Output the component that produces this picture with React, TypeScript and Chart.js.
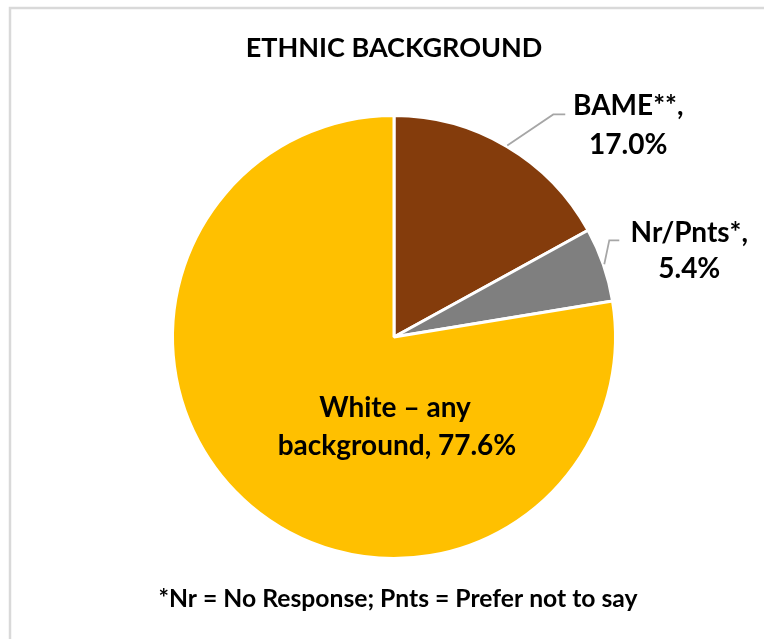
import React, { useEffect, useRef } from "react";
import { Chart, registerables } from "chart.js";

Chart.register(...registerables);

// ---- data ----
const categories = ["BAME**", "Nr/Pnts*", "White – any background"];
const values = [17.0, 5.4, 77.6];
const sliceColors = ["#843C0C", "#7F7F7F", "#FFC000"];
const titleText = "ETHNIC BACKGROUND";
const footnoteText = "*Nr = No Response; Pnts = Prefer not to say";

// ---- style ----
const FONT = "Lato, 'Open Sans', sans-serif";
const TEXT_COLOR = "#000000";
const LEADER_COLOR = "#A6A6A6";

// label layout per slice (style only)
const labelStyle = [
  { outside: true, ldx: 46, ldy: -31, hl: 12, tx: 75, b1: 1, b2: 40 },
  { outside: true, ldx: 5, ldy: -24, hl: 10, tx: 80, b1: 2, b2: 38 },
  { outside: false, cx: 1, b1: 80, b2: 118 },
];

function labelLines(i: number): string[] {
  const pct = values[i].toFixed(1) + "%";
  const cat = categories[i];
  if (i === 2) {
    const cut = cat.lastIndexOf(" ");
    return [cat.slice(0, cut), cat.slice(cut + 1) + ", " + pct];
  }
  return [cat + ",", pct];
}

const decorPlugin = {
  id: "decor",
  beforeDraw(chart: any) {
    const ctx = chart.ctx as CanvasRenderingContext2D;
    ctx.save();
    ctx.fillStyle = "#ffffff";
    ctx.fillRect(0, 0, chart.width, chart.height);
    ctx.strokeStyle = "#D9D9D9";
    ctx.lineWidth = 2.5;
    ctx.beginPath();
    ctx.moveTo(10, chart.height + 2);
    ctx.lineTo(10, 8);
    ctx.lineTo(chart.width + 2, 8);
    ctx.stroke();
    ctx.restore();
  },
  afterDraw(chart: any) {
    const ctx = chart.ctx as CanvasRenderingContext2D;
    const meta = chart.getDatasetMeta(0);
    ctx.save();
    ctx.fillStyle = TEXT_COLOR;
    ctx.textAlign = "center";
    ctx.textBaseline = "alphabetic";

    // title
    ctx.font = `bold 27px ${FONT}`;
    ctx.fillText(titleText, 394, 57);

    // footnote
    ctx.font = `bold 24.7px ${FONT}`;
    ctx.fillText(footnoteText, 398, 607);

    // data labels
    meta.data.forEach((arc: any, i: number) => {
      const p = arc.getProps(["x", "y", "startAngle", "endAngle", "outerRadius"], true);
      const mid = (p.startAngle + p.endAngle) / 2;
      const st = labelStyle[i] as any;
      const lines = labelLines(i);
      ctx.font = `bold 28px ${FONT}`;
      ctx.fillStyle = TEXT_COLOR;
      if (st.outside) {
        const r = p.outerRadius + 1;
        const ax = p.x + r * Math.cos(mid);
        const ay = p.y + r * Math.sin(mid);
        const ex = ax + st.ldx;
        const ey = ay + st.ldy;
        ctx.strokeStyle = LEADER_COLOR;
        ctx.lineWidth = 1.75;
        ctx.beginPath();
        ctx.moveTo(ax, ay);
        ctx.lineTo(ex, ey);
        ctx.lineTo(ex + st.hl, ey);
        ctx.stroke();
        const tx = ex + st.tx;
        ctx.fillText(lines[0], tx, ey + st.b1);
        ctx.fillText(lines[1], tx, ey + st.b2);
      } else {
        ctx.fillText(lines[0], p.x + st.cx, p.y + st.b1);
        ctx.fillText(lines[1], p.x + st.cx + 2, p.y + st.b2);
      }
    });
    ctx.restore();
  },
};

export default function App() {
  const canvasRef = useRef<HTMLCanvasElement | null>(null);

  useEffect(() => {
    if (!canvasRef.current) return;
    const chart = new Chart(canvasRef.current, {
      type: "pie",
      data: {
        labels: categories,
        datasets: [
          {
            data: values,
            backgroundColor: sliceColors,
            borderColor: "#ffffff",
            borderWidth: 3,
          },
        ],
      },
      options: {
        responsive: false,
        animation: false,
        devicePixelRatio: 1,
        radius: 221.5,
        layout: { padding: { left: 174, right: 150, top: 117, bottom: 82 } },
        plugins: {
          legend: { display: false },
          tooltip: { enabled: false },
          title: { display: false },
        },
      } as any,
      plugins: [decorPlugin],
    });
    return () => chart.destroy();
  }, []);

  return (
    <div style={{ position: "fixed", left: 0, top: 0, width: 764, height: 639, background: "#fff" }}>
      <canvas ref={canvasRef} width={764} height={639} style={{ display: "block" }} />
    </div>
  );
}
